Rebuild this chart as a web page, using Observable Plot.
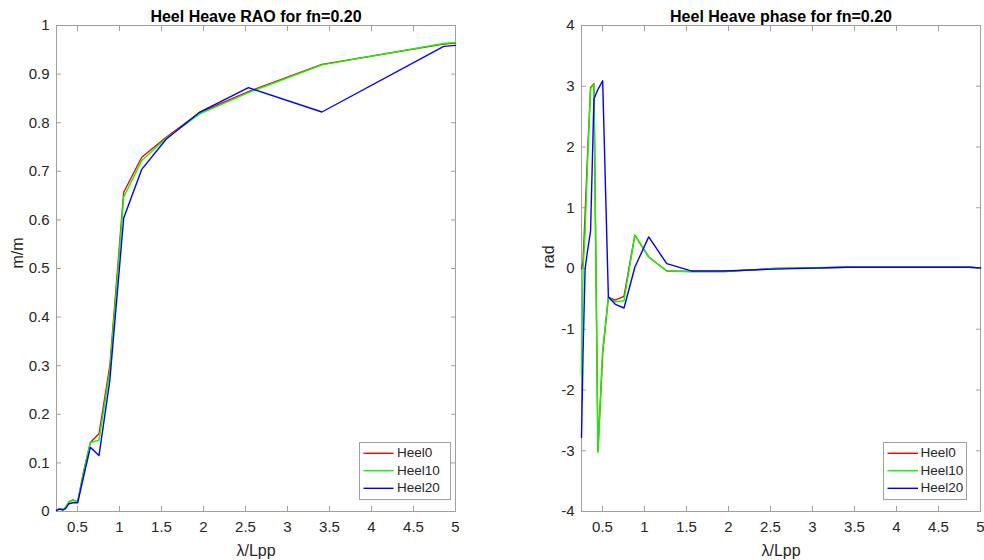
<!DOCTYPE html>
<html>
<head>
<meta charset="utf-8">
<script src="https://cdn.jsdelivr.net/npm/d3@7"></script>
<script src="https://cdn.jsdelivr.net/npm/@observablehq/plot@0.6"></script>
<style>
  body { margin: 0; background: #fff; font-family: "Liberation Sans", Arial, sans-serif; }
  #fig { position: relative; width: 984px; height: 560px; overflow: hidden; background: #fff; }
  .panel { position: absolute; top: 0; }
  .legend { position: absolute; box-sizing: border-box; border: 1px solid #a0a0a0; background: #fff;
            font-size: 13.5px; color: #262626; }
  .legend svg { position: absolute; left: 0; top: 0; }
  .legend .lab { position: absolute; height: 16px; line-height: 16px; white-space: nowrap; }
</style>
</head>
<body>
<div id="fig"></div>
<script>
// Wavelength / ship length at each computed frequency
const lambda = [0.25, 0.268, 0.293, 0.323, 0.358, 0.398, 0.446, 0.502, 0.570, 0.653,
                0.756, 0.885, 1.050, 1.265, 1.555, 1.956, 2.535, 3.41, 4.86, 5.0];

// Heave RAO (m/m) for each heel angle
const heel0Rao  = [0.003, 0.004, 0.006, 0.004, 0.008, 0.020, 0.024, 0.020, 0.080, 0.142,
                   0.160, 0.300, 0.657, 0.729, 0.770, 0.821, 0.864, 0.920, 0.962, 0.964];
const heel10Rao = [0.003, 0.004, 0.006, 0.004, 0.008, 0.020, 0.023, 0.020, 0.078, 0.142,
                   0.147, 0.290, 0.647, 0.722, 0.768, 0.818, 0.862, 0.919, 0.963, 0.965];
const heel20Rao = [0.002, 0.004, 0.005, 0.003, 0.006, 0.016, 0.018, 0.018, 0.070, 0.132,
                   0.115, 0.270, 0.604, 0.704, 0.766, 0.822, 0.872, 0.822, 0.957, 0.959];

// Heave phase (rad) for each heel angle
const heel0Phase  = [0.0, 0.1, 0.9, 1.9, 2.98, 3.04, -3.0, -1.4, -0.47, -0.52,
                     -0.46, 0.55, 0.19, -0.04, -0.05, -0.05, 0.0, 0.02, 0.02, 0.01];
const heel10Phase = [-1.75, -0.05, 0.6, 1.8, 2.96, 3.03, -3.03, -1.35, -0.48, -0.55,
                     -0.53, 0.55, 0.19, -0.04, -0.05, -0.05, 0.0, 0.02, 0.02, 0.01];
const heel20Phase = [-2.78, -1.4, 0.0, 0.3, 0.62, 2.79, 2.95, 3.09, -0.47, -0.59,
                     -0.65, 0.02, 0.52, 0.08, -0.04, -0.04, -0.01, 0.02, 0.02, 0.01];

const seriesNames  = ["Heel0", "Heel10", "Heel20"];
const seriesColors = ["#ff0000", "#00ff00", "#0000ff"];

const xTicks      = [0.5, 1, 1.5, 2, 2.5, 3, 3.5, 4, 4.5, 5];
const raoTicks    = [0, 0.1, 0.2, 0.3, 0.4, 0.5, 0.6, 0.7, 0.8, 0.9, 1];
const phaseTicks  = [-4, -3, -2, -1, 0, 1, 2, 3, 4];

const AXIS = "#a0a0a0";
const TEXT = "#262626";

function toRows(values) {
  return lambda.map((l, i) => ({ l, v: values[i] }));
}

function panel({ left, marginLeft, marginRight, yDomain, yTicks, series, title, ylabel, ylabelDx }) {
  const chart = Plot.plot({
    width: 492,
    height: 560,
    marginLeft,
    marginRight,
    marginTop: 25,
    marginBottom: 49,
    x: { domain: [0.25, 5], label: null },
    y: { domain: yDomain, label: null },
    style: { fontFamily: "Liberation Sans, Arial, sans-serif", fontSize: "15px", color: TEXT, background: "#fff", overflow: "visible" },
    marks: [
      Plot.frame({ stroke: AXIS }),
      // tick labels
      Plot.axisX(xTicks, { anchor: "bottom", tickSize: 0, tickPadding: 10, tickFormat: d => String(d), fill: TEXT, fontSize: 15 }),
      Plot.axisY(yTicks, { anchor: "left", tickSize: 0, tickPadding: 7, tickFormat: d => String(d), fill: TEXT, fontSize: 15 }),
      // inward tick marks on all four sides
      Plot.axisX(xTicks, { anchor: "bottom", tickSize: -5, tickFormat: () => "", stroke: AXIS }),
      Plot.axisX(xTicks, { anchor: "top", tickSize: -5, tickFormat: () => "", stroke: AXIS }),
      Plot.axisY(yTicks, { anchor: "left", tickSize: -5, tickFormat: () => "", stroke: AXIS }),
      Plot.axisY(yTicks, { anchor: "right", tickSize: -5, tickFormat: () => "", stroke: AXIS }),
      // curves, drawn in legend order
      ...series.map((vals, i) => Plot.line(toRows(vals), { x: "l", y: "v", stroke: seriesColors[i], strokeWidth: 1.4 })),
      // title and axis labels
      Plot.text([title], { frameAnchor: "top", dy: -4, lineAnchor: "bottom", fontWeight: "bold", fontSize: 16, fill: "#000" }),
      Plot.text(["λ/Lpp"], { frameAnchor: "bottom", dy: 44, lineAnchor: "bottom", fontSize: 16, fill: TEXT }),
      Plot.text([ylabel], { frameAnchor: "left", dx: ylabelDx, rotate: -90, lineAnchor: "middle", fontSize: 16, fill: TEXT })
    ]
  });
  const wrap = document.createElement("div");
  wrap.className = "panel";
  wrap.style.left = left + "px";
  wrap.appendChild(chart);
  document.getElementById("fig").appendChild(wrap);
}

function legend({ left, top, width, height, lineX0, lineX1, textX }) {
  const box = document.createElement("div");
  box.className = "legend";
  Object.assign(box.style, { left: left + "px", top: top + "px", width: width + "px", height: height + "px" });
  const rowMid = [11.3, 28.7, 46.3];
  const ns = "http://www.w3.org/2000/svg";
  const svg = document.createElementNS(ns, "svg");
  svg.setAttribute("width", width);
  svg.setAttribute("height", height);
  seriesNames.forEach((name, i) => {
    const ln = document.createElementNS(ns, "line");
    ln.setAttribute("x1", lineX0);
    ln.setAttribute("x2", lineX1);
    ln.setAttribute("y1", rowMid[i] - 1);
    ln.setAttribute("y2", rowMid[i] - 1);
    ln.setAttribute("stroke", seriesColors[i]);
    ln.setAttribute("stroke-width", 1.4);
    svg.appendChild(ln);
    const lab = document.createElement("div");
    lab.className = "lab";
    lab.style.left = textX + "px";
    lab.style.top = (rowMid[i] - 9) + "px";
    lab.textContent = name;
    box.appendChild(lab);
  });
  box.insertBefore(svg, box.firstChild);
  document.getElementById("fig").appendChild(box);
}

panel({
  left: 0, marginLeft: 56, marginRight: 37,
  yDomain: [0, 1], yTicks: raoTicks,
  series: [heel0Rao, heel10Rao, heel20Rao],
  title: "Heel Heave RAO for fn=0.20", ylabel: "m/m", ylabelDx: -39
});
panel({
  left: 492, marginLeft: 89, marginRight: 4,
  yDomain: [-4, 4], yTicks: phaseTicks,
  series: [heel0Phase, heel10Phase, heel20Phase],
  title: "Heel Heave phase for fn=0.20", ylabel: "rad", ylabelDx: -33
});

legend({ left: 359, top: 442, width: 92, height: 58, lineX0: 3.5, lineX1: 33.5, textX: 37 });
legend({ left: 883, top: 442, width: 84, height: 58, lineX0: 3.5, lineX1: 34, textX: 36.5 });
</script>
</body>
</html>
